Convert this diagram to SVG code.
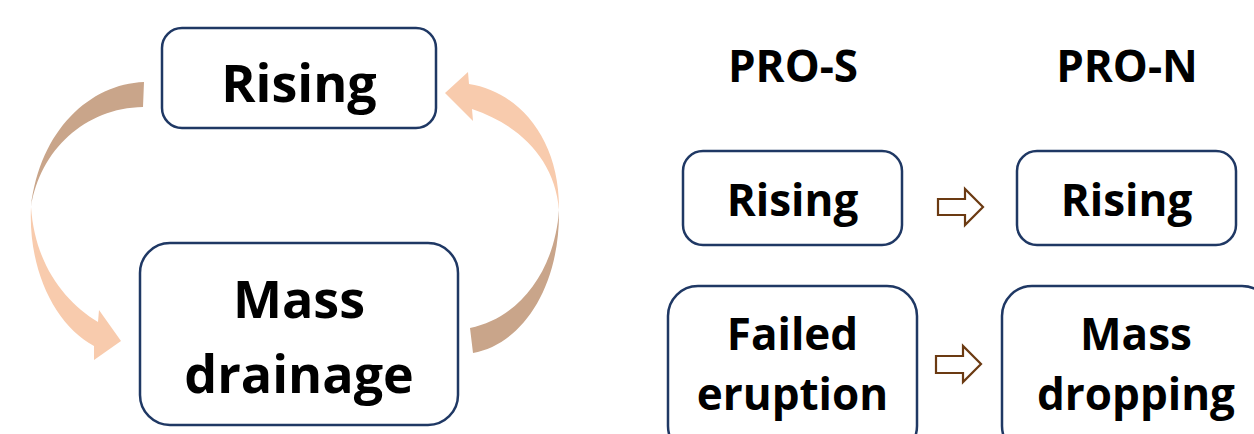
<svg xmlns="http://www.w3.org/2000/svg" width="1254" height="434" viewBox="0 0 1254 434">
<style>
.box{fill:#ffffff;stroke:#1f3864;stroke-width:2.5}
.t{font-family:"Open Sans","Liberation Sans",sans-serif;font-weight:700;fill:#000000;text-anchor:middle}
.big{font-size:52px}
.sm{font-size:44px}
.back{fill:#c9a58a}
.front{fill:#f8cbad}
.blk{fill:#ffffff;stroke:#6b3a12;stroke-width:2.2}
</style>
<rect width="1254" height="434" fill="#ffffff"/>
<g id="connectors">
<path class="back" d="M144,82 C90,84 40,130 31,207 C40,150 85,108 143,107 Z"/>
<path class="front" d="M31,207 C28,270 55,325 94,346 L94,360 L121,341 L99,310 L98,322 C65,302 35,265 31,207 Z"/>
<path class="back" d="M473,353 C520,345 560,290 559,210 C555,270 520,318 470,328 Z"/>
<path class="front" d="M559,210 C560,140 520,92 469,84 L468,72 L445,93 L473,121 L472,109 C520,125 555,160 559,210 Z"/>
<path class="blk" d="M938,199 L965,199 L965,189 L983,207 L965,225 L965,215 L938,215 Z"/>
<path class="blk" d="M936,356 L963,356 L963,346 L981,364 L963,382 L963,373 L936,373 Z"/>
</g>
<g id="node-rising-top">
<rect class="box" x="162" y="28" width="274" height="100" rx="20"/>
<text class="t big" x="299" y="102">Rising</text>
</g>
<g id="node-mass-drainage">
<rect class="box" x="140" y="243" width="318" height="182" rx="30"/>
<text class="t big" x="299" y="318">Mass</text>
<text class="t big" x="299" y="393">drainage</text>
</g>
<g id="label-pro-s">
<text class="t sm" x="793" y="82">PRO-S</text>
</g>
<g id="label-pro-n">
<text class="t sm" x="1127" y="82">PRO-N</text>
</g>
<g id="node-rising-s">
<rect class="box" x="683" y="151" width="219" height="94" rx="20"/>
<text class="t sm" x="792.5" y="216">Rising</text>
</g>
<g id="node-rising-n">
<rect class="box" x="1017" y="151" width="219" height="94" rx="20"/>
<text class="t sm" x="1126.5" y="216">Rising</text>
</g>
<g id="node-failed-eruption">
<rect class="box" x="668" y="286" width="249" height="170" rx="30"/>
<text class="t sm" x="792.5" y="350">Failed</text>
<text class="t sm" x="792.5" y="410">eruption</text>
</g>
<g id="node-mass-dropping">
<rect class="box" x="1002" y="286" width="270" height="170" rx="30"/>
<text class="t sm" x="1136" y="350">Mass</text>
<text class="t sm" x="1136" y="410">dropping</text>
</g>
</svg>
